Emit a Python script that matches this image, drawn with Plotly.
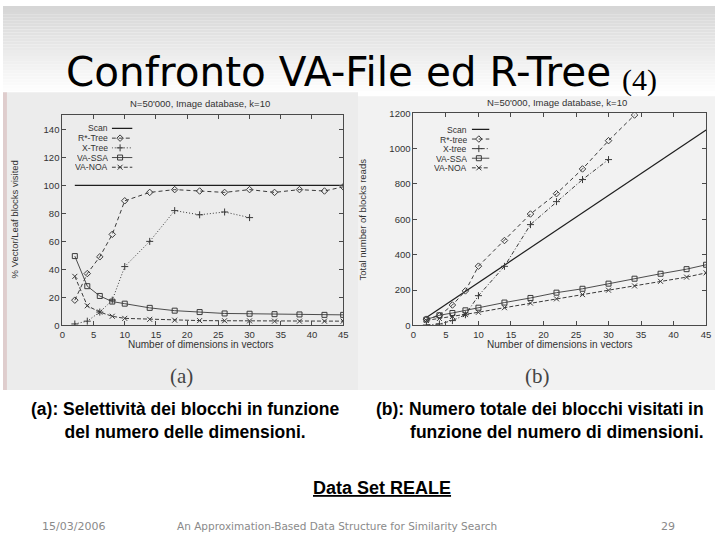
import plotly.graph_objects as go

# ---------------- data ----------------
dims = [2, 4, 6, 8, 10, 14, 18, 22, 26, 30, 34, 38, 42, 45]

# chart (a): % vector / leaf blocks visited
scan_a_x = [2, 45]
scan_a = [100, 100]
rstar_a = [18, 37, 49, 65, 89, 95, 97, 96, 95, 97, 95, 97, 96, 99]
xtree_a_x = [2, 4, 6, 8, 10, 14, 18, 22, 26, 30]
xtree_a = [1, 3, 9.5, 18, 42, 60, 82, 79, 81, 77]
vassa_a = [49.5, 28, 21, 17, 15.5, 12.5, 10.5, 9.5, 8.5, 8.3, 8, 7.8, 7.5, 7.5]
vanoa_a = [35, 14, 9.5, 6.5, 5, 4.3, 3.7, 3.4, 3.3, 3.2, 3, 3, 3, 3]

# chart (b): total number of blocks read
scan_b_x = [2, 45]
scan_b = [45, 1105]
rstar_b_x = [2, 4, 6, 8, 10, 14, 18, 22, 26, 30, 34]
rstar_b = [35, 55, 115, 195, 335, 480, 630, 745, 885, 1045, 1190]
xtree_b_x = [2, 4, 6, 8, 10, 14, 18, 22, 26, 30]
xtree_b = [2, 8, 27, 60, 168, 334, 570, 700, 825, 938]
vassa_b = [33, 57, 70, 85, 100, 129, 155, 185, 207, 236, 264, 292, 318, 343]
vanoa_b = [28, 39, 50, 61, 74, 100, 126, 150, 174, 199, 223, 249, 273, 297]

names_a = ["Scan", "R*-Tree", "X-Tree", "VA-SSA", "VA-NOA"]
names_b = ["Scan", "R*-tree", "X-tree", "VA-SSA", "VA-NOA"]

yticks_a = [0, 20, 40, 60, 80, 100, 120, 140]
yticks_b = [0, 200, 400, 600, 800, 1000, 1200]
xticks = [0, 5, 10, 15, 20, 25, 30, 35, 40, 45]

# ---------------- helpers ----------------
W, H = 720, 540


def px(x):
    return x / W


def py(y):
    return 1 - y / H


INK = "#3a3a3a"
SCANINK = "#1e1e1e"
CF = "Liberation Sans"

styles_a = [
    dict(dash="solid", symbol=None, color=SCANINK, width=1.2),
    dict(dash="4px,3px", symbol="diamond-open", color=INK, width=1),
    dict(dash="1px,2px", symbol="cross-thin-open", color=INK, width=1),
    dict(dash="solid", symbol="square-open", color=INK, width=0.9),
    dict(dash="4px,2px", symbol="x-thin-open", color=INK, width=1),
]
styles_b = [
    dict(dash="solid", symbol=None, color=SCANINK, width=1.2),
    dict(dash="4px,3px", symbol="diamond-open", color=INK, width=1),
    dict(dash="4px,2px,1px,2px", symbol="cross-thin-open", color=INK, width=1),
    dict(dash="solid", symbol="square-open", color=INK, width=0.9),
    dict(dash="4px,2px", symbol="x-thin-open", color=INK, width=1),
]

fig = go.Figure()


def add_series(xs, ys, st, xa, ya):
    if st["symbol"] is None:
        fig.add_trace(go.Scatter(x=xs, y=ys, mode="lines", xaxis=xa, yaxis=ya,
                                 line=dict(color=st["color"], width=st["width"], dash=st["dash"]),
                                 showlegend=False, hoverinfo="skip"))
    else:
        fig.add_trace(go.Scatter(x=xs, y=ys, mode="lines+markers", xaxis=xa, yaxis=ya,
                                 line=dict(color=st["color"], width=st["width"], dash=st["dash"]),
                                 marker=dict(symbol=st["symbol"], size=5,
                                             color=st["color"], line=dict(width=1, color=st["color"])),
                                 showlegend=False, hoverinfo="skip"))


# chart (a)
series_a = [(scan_a_x, scan_a), (dims, rstar_a), (xtree_a_x, xtree_a), (dims, vassa_a), (dims, vanoa_a)]
for (xs, ys), st in zip(series_a, styles_a):
    add_series(xs, ys, st, "x", "y")

# chart (b)
series_b = [(scan_b_x, scan_b), (rstar_b_x, rstar_b), (xtree_b_x, xtree_b), (dims, vassa_b), (dims, vanoa_b)]
for (xs, ys), st in zip(series_b, styles_b):
    add_series(xs, ys, st, "x2", "y2")

ann = []


def text(x, y, s, size, family=CF, color="#333", xanchor="center", yanchor="middle",
         angle=0, align="center", height=None):
    d = dict(x=px(x), y=py(y), xref="paper", yref="paper", text=s, showarrow=False,
             xanchor=xanchor, yanchor=yanchor, textangle=angle, align=align,
             font=dict(family=family, size=size, color=color))
    if height is not None:
        d["height"] = height
    ann.append(d)


# gnuplot-style keys (text right-aligned, sample on the right)
def add_key(names, styles, xa, ya, text_right, row_top, row_step):
    for i, (nm, st) in enumerate(zip(names, styles)):
        fig.add_trace(go.Scatter(x=[0, 0.5, 1], y=[i, i, i], mode="lines", xaxis=xa, yaxis=ya,
                                 line=dict(color=st["color"], width=st["width"], dash=st["dash"]),
                                 showlegend=False, hoverinfo="skip"))
        if st["symbol"] is not None:
            fig.add_trace(go.Scatter(x=[0.4], y=[i], mode="markers", xaxis=xa, yaxis=ya,
                                     marker=dict(symbol=st["symbol"], size=5, color=st["color"],
                                                 line=dict(width=1, color=st["color"])),
                                     showlegend=False, hoverinfo="skip"))
        text(text_right, row_top + i * row_step, nm, 8.6, xanchor="right", height=row_step - 0.4)


add_key(names_a, styles_a, "x3", "y3", 107.7, 125, 9.9)
add_key(names_b, styles_b, "x4", "y4", 471.5, 126, 9.8)

axis_common = dict(showline=True, linecolor="#4a4a4a", linewidth=1, mirror="allticks",
                   ticks="inside", ticklen=4, tickcolor="#4a4a4a", tickwidth=1,
                   showgrid=False, zeroline=False,
                   tickfont=dict(family=CF, size=9.5, color="#333"))

fig.update_layout(
    width=W, height=H,
    margin=dict(l=0, r=0, t=0, b=0),
    paper_bgcolor="white",
    plot_bgcolor="rgba(0,0,0,0)",
    showlegend=False,
    xaxis=dict(domain=[px(60), px(344)], range=[0, 45], tickvals=xticks, anchor="y", **axis_common),
    yaxis=dict(domain=[py(326), py(111.7)], range=[0, 150], tickvals=yticks_a, anchor="x", **axis_common),
    xaxis2=dict(domain=[px(415), px(711)], range=[0, 45], tickvals=xticks, anchor="y2", **axis_common),
    yaxis2=dict(domain=[py(326), py(109.5)], range=[0, 1200], tickvals=yticks_b, anchor="x2", **axis_common),
    xaxis3=dict(domain=[px(110), px(131)], range=[0, 1], visible=False, anchor="y3"),
    yaxis3=dict(domain=[py(125 + 4.5 * 9.9), py(125 - 0.5 * 9.9)], range=[4.5, -0.5], visible=False, anchor="x3"),
    xaxis4=dict(domain=[px(474), px(492)], range=[0, 1], visible=False, anchor="y4"),
    yaxis4=dict(domain=[py(126 + 4.5 * 9.8), py(126 - 0.5 * 9.8)], range=[4.5, -0.5], visible=False, anchor="x4"),
)

# ---------------- background ----------------
shapes = []
n = 30
for i in range(n):
    g = int(214 + (255 - 214) * i / (n - 1))
    shapes.append(dict(type="rect", xref="paper", yref="paper", layer="below",
                       x0=0, x1=1, y0=py(i * 3 + 3), y1=py(i * 3),
                       fillcolor=f"rgb({g},{g},{g})", line=dict(width=0)))
shapes.append(dict(type="rect", xref="paper", yref="paper", layer="below",
                   x0=0, x1=px(359), y0=py(392), y1=py(88),
                   fillcolor="#ececec", line=dict(width=0)))
shapes.append(dict(type="rect", xref="paper", yref="paper", layer="below",
                   x0=px(359), x1=1, y0=py(392), y1=py(92),
                   fillcolor="#f2f2f2", line=dict(width=0)))
shapes.append(dict(type="rect", xref="paper", yref="paper", layer="below",
                   x0=0, x1=px(4), y0=py(392), y1=py(88),
                   fillcolor="rgba(215,185,185,0.6)", line=dict(width=0)))
fig.update_layout(shapes=shapes)

# ---------------- texts ----------------
# slide title
text(62, 67.5, "Confronto VA-File ed R-Tree", 40.5, family="DejaVu Sans", color="#000",
     xanchor="left", height=42)
text(624, 76, "(4)", 30, family="Liberation Serif", color="#000", xanchor="left", height=34)

# chart titles
text(199, 100, "N=50'000, Image database, k=10", 9.5)
text(560, 98, "N=50'000, Image database, k=10", 9.5)

# axis titles
text(200, 346, "Number of dimensions in vectors", 10)
text(563, 346, "Number of dimensions in vectors", 10)
text(12, 218, "% Vector/Leaf blocks visited", 9.5, angle=-90)
text(364, 218, "Total number of blocks reads", 9.5, angle=-90)

# (a) / (b)
text(180, 378, "(a)", 21, family="Liberation Serif", color="#444")
text(540, 378, "(b)", 21, family="Liberation Serif", color="#444")

# captions
text(184, 423, "<b>(a): Selettività dei blocchi in funzione<br>del numero delle dimensioni.</b>",
     17.5, color="#000")
text(711, 423, "<b>(b): Numero totale dei blocchi visitati in<br>funzione del numero di dimensioni.</b>",
     17.5, color="#000", xanchor="right", align="right")
text(383, 492, "<b><u>Data Set REALE</u></b>", 18, color="#000")

# footer
text(71, 531, "15/03/2006", 11, family="DejaVu Sans", color="#8a8a8a")
text(338, 531, "An Approximation-Based Data Structure for Similarity Search", 10.5,
     family="DejaVu Sans", color="#8a8a8a")
text(672, 531, "29", 11, family="DejaVu Sans", color="#8a8a8a")

fig.update_layout(annotations=ann)

fig.write_html("out.html",
               config={"displayModeBar": False},
               post_script="document.body.style.margin='0';document.body.style.overflow='hidden';")
